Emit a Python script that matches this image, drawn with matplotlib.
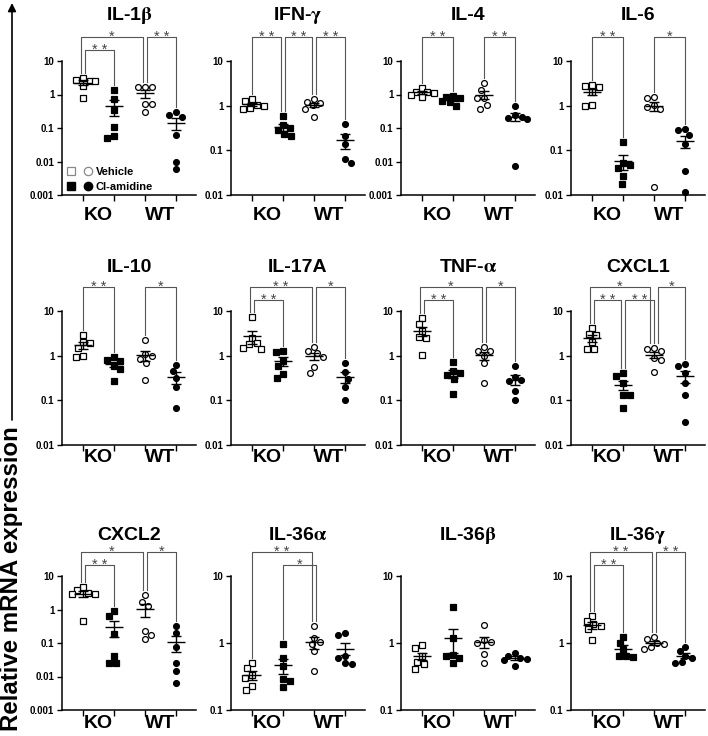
import numpy as np
import matplotlib
matplotlib.use("Agg")
import matplotlib.pyplot as plt
from matplotlib.lines import Line2D
from matplotlib.legend_handler import HandlerTuple

plt.rcParams['font.family'] = ['Liberation Sans', 'DejaVu Sans']
plt.rcParams['font.weight'] = 'bold'
plt.rcParams['mathtext.fontset'] = 'stix'

# greek letters drawn as light upright serif, like the Symbol font of the original
GENES = [r"IL-1$\mathrm{\beta}$", r"IFN-$\mathrm{\gamma}$", "IL-4", "IL-6",
         "IL-10", "IL-17A", r"TNF-$\mathrm{\alpha}$", "CXCL1",
         "CXCL2", r"IL-36$\mathrm{\alpha}$", r"IL-36$\mathrm{\beta}$", r"IL-36$\mathrm{\gamma}$"]
YMIN = [0.001, 0.01, 0.001, 0.01,
        0.01, 0.01, 0.01, 0.01,
        0.001, 0.1, 0.1, 0.1]
STRAINS = ["KO", "WT"]

# one sub-list per gene, same order as GENES
KO_VEH = [
    [3.2, 2.8, 2.6, 2.5, 1.8, 0.76],
    [1.4, 1.3, 1.05, 1.0, 0.9, 0.85],
    [1.6, 1.2, 1.15, 1.1, 1.0, 0.85],
    [2.9, 2.7, 2.6, 2.0, 1.05, 1.0],
    [2.9, 2.0, 1.9, 1.5, 1.0, 0.92],
    [7.3, 2.5, 1.9, 1.8, 1.45, 1.4],
    [7.0, 5.0, 3.6, 2.6, 2.5, 1.05],
    [4.2, 3.0, 2.9, 2.0, 1.4, 1.4],
    [4.7, 3.7, 3.2, 3.0, 2.9, 0.45],
    [0.5, 0.42, 0.33, 0.3, 0.23, 0.2],
    [0.92, 0.84, 0.63, 0.52, 0.48, 0.41],
    [2.5, 2.1, 1.9, 1.8, 1.6, 1.1],
]
KO_CL = [
    [1.4, 0.74, 0.35, 0.11, 0.056, 0.052],
    [0.6, 0.37, 0.32, 0.28, 0.23, 0.21],
    [0.9, 0.85, 0.8, 0.65, 0.6, 0.45],
    [0.155, 0.052, 0.048, 0.04, 0.026, 0.018],
    [0.92, 0.8, 0.75, 0.6, 0.5, 0.27],
    [1.25, 1.2, 0.77, 0.6, 0.38, 0.31],
    [0.74, 0.45, 0.4, 0.36, 0.3, 0.14],
    [0.4, 0.35, 0.25, 0.13, 0.13, 0.068],
    [0.9, 0.65, 0.19, 0.042, 0.026, 0.025],
    [0.95, 0.6, 0.45, 0.29, 0.27, 0.22],
    [3.4, 1.2, 0.67, 0.63, 0.6, 0.51],
    [1.25, 1.0, 0.8, 0.65, 0.63, 0.62],
]
WT_VEH = [
    [1.7, 1.7, 1.7, 0.53, 0.53, 0.3],
    [1.4, 1.2, 1.13, 1.04, 0.84, 0.57],
    [2.2, 1.4, 0.76, 0.76, 0.48, 0.38],
    [1.6, 1.5, 1.05, 0.95, 0.85, 0.015],
    [2.2, 1.1, 1.0, 0.85, 0.7, 0.28],
    [1.6, 1.3, 1.13, 0.95, 0.55, 0.41],
    [1.6, 1.3, 1.3, 1.0, 0.67, 0.24],
    [1.45, 1.4, 1.3, 0.9, 0.8, 0.42],
    [2.7, 1.7, 1.25, 0.23, 0.17, 0.13],
    [1.8, 1.2, 1.05, 0.95, 0.75, 0.38],
    [1.85, 1.1, 1.05, 1.0, 0.68, 0.5],
    [1.25, 1.15, 1.0, 0.95, 0.88, 0.8],
]
WT_CL = [
    [0.3, 0.25, 0.22, 0.06, 0.01, 0.006],
    [0.38, 0.21, 0.14, 0.065, 0.052],
    [0.45, 0.24, 0.22, 0.2, 0.18, 0.0075],
    [0.3, 0.28, 0.22, 0.14, 0.034, 0.0115],
    [0.63, 0.45, 0.32, 0.2, 0.068],
    [0.68, 0.42, 0.3, 0.2, 0.1],
    [0.6, 0.33, 0.28, 0.27, 0.16, 0.1],
    [0.65, 0.6, 0.4, 0.25, 0.13, 0.032],
    [0.33, 0.2, 0.075, 0.025, 0.015, 0.0065],
    [1.4, 1.3, 0.65, 0.6, 0.5, 0.48],
    [0.72, 0.65, 0.6, 0.58, 0.55, 0.45],
    [0.88, 0.75, 0.65, 0.6, 0.52, 0.5],
]

# significance: (group a, group b, label, tier)  groups 0..3 = KO veh, KO cl, WT veh, WT cl
BRACKETS = [
    [(0, 2, "*", 1), (0, 1, "**", 0), (2, 3, "**", 1)],
    [(0, 1, "**", 1), (1, 2, "**", 1), (2, 3, "**", 1)],
    [(0, 1, "**", 1), (2, 3, "**", 1)],
    [(0, 1, "**", 1), (2, 3, "*", 1)],
    [(0, 1, "**", 1), (2, 3, "*", 1)],
    [(0, 2, "**", 1), (0, 1, "**", 0), (2, 3, "*", 1)],
    [(0, 2, "*", 1), (0, 1, "**", 0), (2, 3, "*", 1)],
    [(0, 2, "*", 1), (0, 1, "**", 0), (1, 2, "**", 0), (2, 3, "*", 1)],
    [(0, 2, "*", 1), (0, 1, "**", 0), (2, 3, "*", 1)],
    [(0, 2, "**", 1), (1, 2, "*", 0)],
    [],
    [(0, 2, "**", 1), (0, 1, "**", 0), (2, 3, "**", 1)],
]

W, H = 708, 736
PX_UNIT = 31.0        # pixels per category step
AX_H = 134.0
TICK0 = [83, 252, 422, 592]
ROW_TOP = [61, 311, 576]
LABEL_GAP = [20, 12, 14]
TITLE_GAP = [46, 44, 41]
XLIM = (-0.68, 3.65)
MARKERS = ["s", "s", "o", "o"]
FACES = ["white", "black", "white", "black"]


def swarm(vals, px_dec, d=7.2, cap=11.5):
    # simple beeswarm in pixel space, spread limited to +-cap px
    y = np.log10(vals) * px_dec
    order = np.argsort(-y)
    xs = np.zeros(len(vals))
    done = []
    flip = 1
    grid = np.linspace(-cap, cap, 47)
    for i in order:
        cands = [0.0]
        for j in done:
            dy = y[i] - y[j]
            if abs(dy) < d:
                dx = np.sqrt(d * d - dy * dy)
                cands += [xs[j] + dx, xs[j] - dx]
        ok = [c for c in cands if abs(c) <= cap + 1e-6 and
              all((c - xs[j]) ** 2 + (y[i] - y[j]) ** 2 >= d * d - 1e-6 for j in done)]
        if ok:
            ok.sort(key=lambda c: (round(abs(c), 3), -flip * c))
            xs[i] = ok[0]
        else:
            best = max(grid, key=lambda c: min((c - xs[j]) ** 2 + (y[i] - y[j]) ** 2 for j in done))
            xs[i] = best
        flip = -flip
        done.append(i)
    return xs / PX_UNIT


fig = plt.figure(figsize=(W / 100, H / 100), dpi=100)

for k, gene in enumerate(GENES):
    r, c = divmod(k, 4)
    left = (TICK0[c] + XLIM[0] * PX_UNIT) / W
    bottom = (H - ROW_TOP[r] - AX_H) / H
    ax = fig.add_axes([left, bottom, (XLIM[1] - XLIM[0]) * PX_UNIT / W, AX_H / H])
    ax.set_yscale("log")
    ax.set_ylim(YMIN[k], 10)
    ax.set_xlim(*XLIM)
    px_dec = AX_H / np.log10(10 / YMIN[k])

    groups = [KO_VEH[k], KO_CL[k], WT_VEH[k], WT_CL[k]]
    tops = []
    for g, vals in enumerate(groups):
        vals = np.array(vals)
        xs = g + swarm(vals, px_dec)
        ax.plot(xs, vals, ls="none", marker=MARKERS[g], ms=4.2,
                mfc=FACES[g], mec="black", mew=0.9, clip_on=False, zorder=3)
        m = vals.mean()
        se = vals.std(ddof=1) / np.sqrt(len(vals))
        lo = max(m - se, YMIN[k])
        ax.hlines(m, g - 0.3, g + 0.3, color="black", lw=1.0, zorder=4)
        ax.vlines(g, lo, m + se, color="black", lw=1.0, zorder=4)
        ax.hlines([lo, m + se], g - 0.15, g + 0.15, color="black", lw=1.0, zorder=4)
        tops.append(vals.max())

    # bracket end offsets so shared ends do not overlap
    ends = {g: [] for g in range(4)}
    for b, (a, e, lab, tier) in enumerate(BRACKETS[k]):
        ends[a].append((1, -tier, b, 0))
        ends[e].append((0, -tier, b, 1))
    xpos = {}
    for g, lst in ends.items():
        lst.sort()
        n = len(lst)
        for p, item in enumerate(lst):
            xpos[(item[2], item[3])] = g + (p - (n - 1) / 2) * 0.13

    inv = ax.transAxes.inverted()
    trans = ax.get_xaxis_transform()
    for b, (a, e, lab, tier) in enumerate(BRACKETS[k]):
        ytop = 1 + (24 if tier == 1 else 11) / AX_H
        x1, x2 = xpos[(b, 0)], xpos[(b, 1)]
        f1 = inv.transform(ax.transData.transform((0, tops[a])))[1] + 5 / AX_H
        f2 = inv.transform(ax.transData.transform((0, tops[e])))[1] + 5 / AX_H
        ax.plot([x1, x1, x2, x2], [f1, ytop, ytop, f2], transform=trans,
                color="#555555", lw=0.8, clip_on=False, zorder=2)
        ax.annotate(" ".join(lab), xy=((x1 + x2) / 2, ytop), xycoords=trans,
                    xytext=(0, -3), textcoords="offset points",
                    ha="center", va="baseline", fontsize=10.5, fontweight="normal",
                    color="#444444", annotation_clip=False)

    ax.text(0.5, 1 + TITLE_GAP[r] / AX_H, gene, transform=ax.transAxes, ha="center",
            va="center", fontsize=14, fontweight="bold")

    for s in ["top", "right"]:
        ax.spines[s].set_visible(False)
    for s in ["left", "bottom"]:
        ax.spines[s].set_linewidth(1.1)
    ax.set_xticks([0, 1, 2, 3])
    ax.set_xticklabels([])
    ax.tick_params(axis="x", length=4, width=1.0)
    ax.tick_params(axis="y", length=3.5, width=1.0, labelsize=7, pad=2)
    ax.yaxis.set_minor_locator(matplotlib.ticker.NullLocator())
    ax.yaxis.set_major_formatter(matplotlib.ticker.FuncFormatter(
        lambda v, p: ("%g" % v)))
    for lbl in ax.get_yticklabels():
        lbl.set_fontweight("bold")

    gap = LABEL_GAP[r] / AX_H
    for s, name in enumerate(STRAINS):
        ax.text(2 * s + 0.5, -gap, name, transform=trans, ha="center",
                va="center", fontsize=14, fontweight="bold")

    if k == 0:
        h_open = (Line2D([], [], ls="none", marker="s", ms=5.5, mfc="white", mec="#888888", mew=0.9),
                  Line2D([], [], ls="none", marker="o", ms=6, mfc="white", mec="#888888", mew=0.9))
        h_fill = (Line2D([], [], ls="none", marker="s", ms=5.5, mfc="black", mec="black"),
                  Line2D([], [], ls="none", marker="o", ms=6, mfc="black", mec="black"))
        ax.legend([h_open, h_fill], ["Vehicle", "Cl-amidine"],
                  handler_map={tuple: HandlerTuple(ndivide=None, pad=0.6)},
                  loc="lower left", bbox_to_anchor=(0.03, 0.02), frameon=False,
                  fontsize=8, handlelength=2.4, handletextpad=0.3,
                  labelspacing=0.45, borderaxespad=0, borderpad=0)

# shared y label with upward arrow
fig.text(12 / W, 5 / H, "Relative mRNA expression", rotation=90,
         ha="center", va="bottom", fontsize=17.3, fontweight="bold")
fig.axes[0].annotate("", xy=(12 / W, 1 - 3 / H), xytext=(12 / W, 1 - 420 / H),
                     xycoords="figure fraction", textcoords="figure fraction",
                     arrowprops=dict(arrowstyle="-|>", color="black", lw=1.2,
                                     mutation_scale=12, shrinkA=0, shrinkB=0),
                     annotation_clip=False)

fig.savefig("out.png", dpi=100)
